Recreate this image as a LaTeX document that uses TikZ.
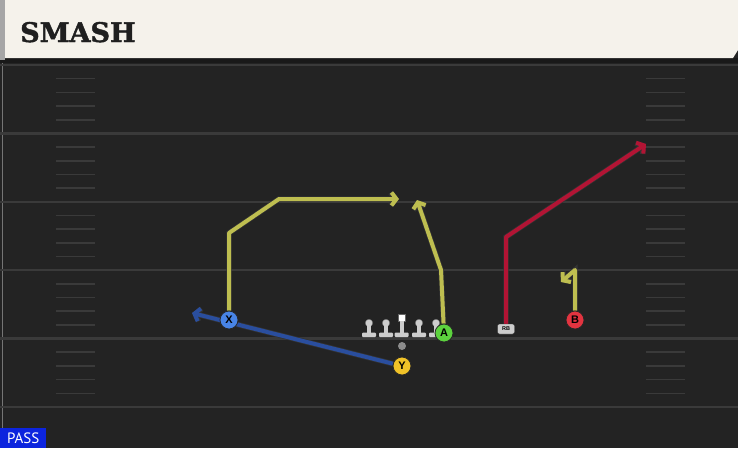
\documentclass[tikz,border=0pt]{standalone}
\usepackage{fontspec}
\setmainfont{DejaVu Serif}
\newfontfamily\titlefont[FakeBold=1.6]{DejaVu Serif Bold}
\newfontfamily\badgefont{PT Sans}
\newfontfamily\markfont{Liberation Sans}
\usetikzlibrary{arrows.meta}

\definecolor{turf}{RGB}{35,35,35}
\definecolor{yardline}{RGB}{58,58,58}
\definecolor{paper}{RGB}{245,242,235}
\definecolor{routeyellow}{RGB}{190,190,80}
\definecolor{routered}{RGB}{178,20,52}
\definecolor{routeblue}{RGB}{42,78,158}
\definecolor{xblue}{RGB}{72,132,230}
\definecolor{ygold}{RGB}{240,194,40}
\definecolor{agreen}{RGB}{92,210,62}
\definecolor{bred}{RGB}{226,52,64}
\definecolor{passblue}{RGB}{12,36,222}
\definecolor{lineman}{RGB}{205,205,205}

\pgfdeclarelayer{field}
\pgfdeclarelayer{routes}
\pgfsetlayers{field,routes,main}

\begin{document}
\begin{tikzpicture}[x=1pt,y=-1pt,
        player/.style={circle, draw=black!85, line width=0.8pt, minimum size=18pt, inner sep=0pt, font=\markfont\bfseries\fontsize{11}{11}\selectfont},
        route/.style={line width=4pt, draw=#1, line join=round,
            preaction={draw=black!80, line width=5.4pt},
            -{Straight Barb[length=5pt,width=13pt,line join=miter]}},
        hash/.style={draw=yardline, line width=1.6pt}
    ]
    \useasboundingbox (0,0) rectangle (738,448);

    % field and header
    \begin{pgfonlayer}{field}
        \fill[turf] (0,0) rectangle (738,448);
        \draw[yardline!70, line width=0.8pt] (2,60) -- (2,448);
        \foreach \j in {0,...,5}
            \draw[yardline, line width=2.4pt] (0,65+68.4*\j) -- (738,65+68.4*\j);
        \foreach \k in {1,...,24} {
            \pgfmathtruncatemacro{\r}{mod(\k,5)}
            \ifnum\r>0
                \draw[hash] (56,65+13.68*\k) -- (95,65+13.68*\k);
                \draw[hash] (646,65+13.68*\k) -- (685,65+13.68*\k);
            \fi
        }
        \fill[black!90] (0,58) rectangle (738,63);
        \fill[paper] (5,0) -- (738,0) -- (738,50) -- (733,58) -- (5,58) -- cycle;
        \fill[black!35] (0,0) rectangle (5,60);
    \end{pgfonlayer}

    \node (title) [anchor=base west, inner sep=0pt, font=\titlefont\fontsize{27}{27}\selectfont, text=black!88] at (20,42) {SMASH};
    \node (pass) [anchor=south west, fill=passblue, text=white, inner sep=0pt, minimum width=46pt, minimum height=20pt, font=\badgefont\fontsize{15}{15}\selectfont] at (0,448) {PASS};

    % line
    \foreach \x in {369,386,419,436} {
        \fill[lineman, draw=black!60, line width=0.4pt] (\x,323) circle (3.8);
        \fill[lineman] (\x-1.8,323) rectangle (\x+1.8,334);
        \fill[lineman, rounded corners=1pt] (\x-7,332.5) rectangle (\x+7,337);
    }
    \fill[white, draw=black!60, line width=0.4pt] (398,314) rectangle (405.5,321.5);
    \fill[lineman] (399.9,321) rectangle (403.6,334);
    \fill[lineman, rounded corners=1pt] (394.7,332.5) rectangle (408.7,337);
    \node (qb) [circle, fill=black!45, minimum size=8pt, inner sep=0pt] at (402,346) {};

    % skill players
    \node (X) [player, fill=xblue] at (229,320) {X};
    \node (Y) [player, fill=ygold] at (402,366) {Y};
    \node (A) [player, fill=agreen] at (444,333) {A};
    \node (B) [player, fill=bred] at (575,320) {B};
    \node (RB) [draw=black!80, fill=lineman, rounded corners=2pt, minimum width=17pt, minimum height=10pt, inner sep=0pt, font=\markfont\bfseries\fontsize{5.5}{5.5}\selectfont] at (506,329) {RB};

    \coordinate (x1) at (229,233);
    \coordinate (x2) at (279,199);
    \coordinate (x3) at (399,199);
    \coordinate (y1) at (192,313);
    \coordinate (a1) at (441,270);
    \coordinate (a2) at (417,200);
    \coordinate (rb1) at (506,237);
    \coordinate (rb2) at (646,144);
    \coordinate (b1) at (575,270);
    \coordinate (b2) at (561,282);

    % routes
    \begin{pgfonlayer}{routes}
        \draw[route=routeblue] (Y) -- (y1);
        \draw[route=routeyellow] (X) -- (x1) -- (x2) -- (x3);
        \draw[route=routeyellow] (A) -- (a1) -- (a2);
        \draw[route=routered] (RB) -- (rb1) -- (rb2);
        \draw[route=routeyellow] (B) -- (b1) -- (b2);
    \end{pgfonlayer}
\end{tikzpicture}
\end{document}
